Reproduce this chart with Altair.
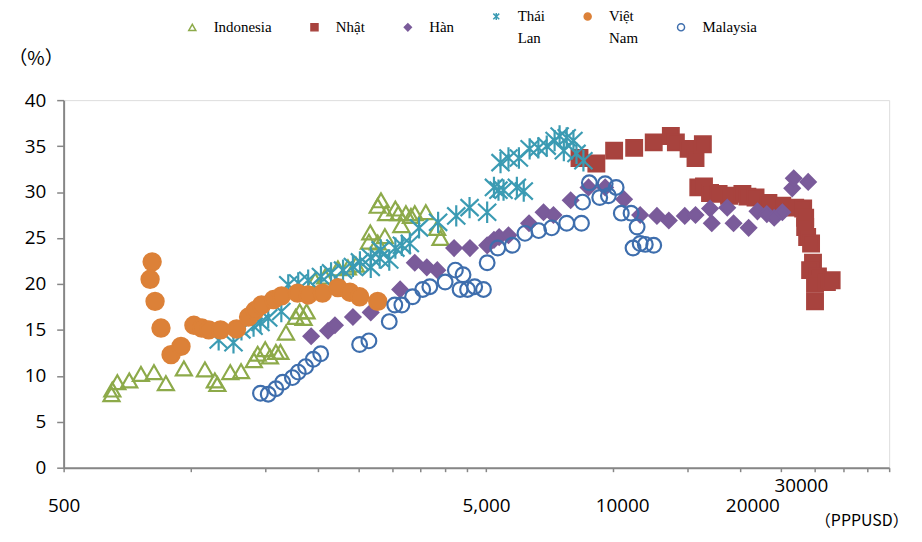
import altair as alt
import pandas as pd

# ---------------- data (GDP per capita, PPP USD ; share %) ----------------
series_names = ["Indonesia", "Nhật", "Hàn", "Thái Lan", "Việt Nam", "Malaysia"]
series_colors = ["#8DAA4A", "#A8433E", "#7A5B9A", "#3B9BB3", "#DC8138", "#3E6EAD"]

indonesia_gdp = [649, 652, 670, 715, 762, 818, 873, 963, 1080, 1140, 1156, 1240, 1315, 1410, 1440,
                 1500, 1540, 1590, 1630, 1680, 1770, 1810, 1850, 1880, 1970, 2080, 2230, 2355, 2460,
                 2660, 2640, 2770, 2880, 2770, 2820, 2900, 3050, 3100, 3150, 3230, 3320, 3390, 3600,
                 3830, 3900]
indonesia_share = [8.0, 8.5, 9.3, 9.5, 10.2, 10.4, 9.2, 10.8, 10.7, 9.5, 9.1, 10.4, 10.5, 11.7, 12.4,
                   12.9, 12.1, 12.6, 12.6, 14.7, 16.4, 17.0, 16.3, 17.0, 20.4, 20.8, 21.7, 21.8, 22.1,
                   25.6, 24.6, 24.5, 25.2, 28.5, 29.1, 27.7, 28.2, 27.7, 26.4, 27.7, 27.4, 27.7, 27.8,
                   26.1, 25.0]

japan_gdp = [8320, 9122, 10050, 11210, 12470, 13690, 14070, 15080, 15660, 16300, 15900, 16400,
             16950, 17760, 18800, 20220, 20780, 21720, 23300, 25140, 26960, 28160, 28470, 28470,
             28780, 29400, 29710, 29250, 30520, 30040, 32050, 32890, 30040]
japan_share = [33.7, 33.1, 34.5, 34.8, 35.4, 36.1, 35.4, 34.7, 33.7, 35.2, 30.5, 30.6,
               29.9, 29.8, 29.6, 29.8, 29.5, 29.4, 28.8, 28.5, 28.3, 28.2, 27.2, 26.2,
               25.1, 24.4, 22.3, 21.5, 20.8, 20.0, 20.2, 20.4, 18.1]

korea_gdp = [1927, 2113, 2194, 2420, 2667, 3130, 3390, 3620, 3833, 4200, 4580, 5030, 5220, 5370,
             5650, 6320, 6840, 7220, 7930, 8740, 9570, 10610, 11580, 12690, 13540, 14770, 15660,
             16950, 17110, 18620, 19270, 20920, 21950, 23100, 24050, 25140, 26530, 26750, 28940]
korea_share = [14.3, 14.9, 15.5, 16.4, 16.9, 19.4, 22.3, 21.8, 21.5, 23.9, 23.9, 24.2, 24.8, 25.1,
               25.3, 26.6, 27.8, 27.5, 29.1, 30.5, 30.5, 29.2, 27.5, 27.4, 26.9, 27.4, 27.5,
               28.2, 26.6, 28.3, 26.6, 26.1, 27.9, 27.6, 27.2, 27.8, 30.4, 31.5, 31.1]

thai_gdp = [1164, 1262, 1318, 1408, 1462, 1525, 1638, 1701, 1796, 1896, 2033, 2148, 2293, 2420,
            2514, 2667, 2667, 2800, 2815, 2950, 3050, 3160, 3300, 3470, 3850, 4250, 4570, 5030,
            5220, 5350, 5500, 5914, 6140, 5410, 5650, 5980, 6340, 6650, 6960, 7265, 7465, 7760,
            8050, 7640, 8186, 8500]
thai_share = [13.9, 13.6, 15.0, 15.4, 15.8, 16.3, 17.0, 19.9, 20.1, 20.4, 20.8, 21.2, 21.5, 21.9,
              22.4, 21.8, 22.9, 22.8, 23.7, 22.6, 23.9, 24.2, 24.4, 26.1, 26.7, 27.4, 28.3, 27.8,
              30.5, 30.2, 30.2, 30.5, 30.1, 33.2, 33.7, 33.7, 34.7, 34.8, 35.0, 35.6, 36.1, 35.9,
              35.6, 34.5, 34.2, 33.4]

vietnam_gdp = [810, 801, 823, 850, 898, 948, 1017, 1062, 1103, 1176, 1283, 1370, 1420, 1470, 1570,
               1640, 1790, 1896, 2050, 2230, 2380, 2510, 2770]
vietnam_share = [22.4, 20.5, 18.1, 15.2, 12.3, 13.2, 15.5, 15.2, 15.0, 15.0, 15.1, 16.4, 17.1, 17.7,
                 18.3, 18.7, 19.0, 18.8, 19.0, 19.6, 19.1, 18.6, 18.1]

malaysia_gdp = [1462, 1525, 1590, 1650, 1740, 1796, 1870, 1950, 2030, 2510, 2640, 2950, 3040, 3160,
                3350, 3540, 3680, 4000, 4230, 4410, 4340, 4520, 4700, 4930, 5030, 5330, 5770, 6180,
                6660, 7150, 7760, 8410, 8460, 8780, 9290, 9570, 9740, 10160, 10450, 11020, 11390,
                11140, 11580, 11910, 12470]
malaysia_share = [8.1, 8.0, 8.6, 9.3, 9.8, 10.4, 11.0, 11.8, 12.4, 13.4, 13.8, 15.9, 17.7, 17.7,
                  18.6, 19.4, 19.7, 20.2, 21.5, 21.0, 19.4, 19.4, 19.7, 19.4, 22.3, 23.9, 24.2, 25.5,
                  25.8, 26.1, 26.6, 26.6, 28.9, 31.0, 29.4, 30.9, 29.6, 30.5, 27.7, 27.7, 26.2,
                  23.9, 24.4, 24.3, 24.2]

x_tick_values = [500, 1000, 1500, 2000, 2500, 3000, 3500, 4000, 4500, 5000,
                 10000, 15000, 20000, 25000, 30000, 35000, 40000, 45000]
y_tick_values = [0, 5, 10, 15, 20, 25, 30, 35, 40]

# ---------------- table ----------------
asterisk = "M0,-1L0,1M-0.85,-0.8L0.85,0.8M-0.85,0.8L0.85,-0.8"
shape_range = ["triangle-up", "square", "diamond", asterisk, "circle", "circle"]
fill_range = ["transparent", series_colors[1], series_colors[2], "transparent",
              series_colors[4], "transparent"]
marker_sizes = [260, 250, 230, 460, 300, 220]

parts = [
    ("Indonesia", indonesia_gdp, indonesia_share),
    ("Nhật", japan_gdp, japan_share),
    ("Hàn", korea_gdp, korea_share),
    ("Thái Lan", thai_gdp, thai_share),
    ("Việt Nam", vietnam_gdp, vietnam_share),
    ("Malaysia", malaysia_gdp, malaysia_share),
]
frames = [pd.DataFrame({"series": n, "gdp": g, "share": s, "msize": marker_sizes[i]})
          for i, (n, g, s) in enumerate(parts)]
df = pd.concat(frames, ignore_index=True)

legend = alt.Legend(
    orient="none", direction="horizontal", columns=6, legendX=122, legendY=-92,
    title=None, labelFont="Liberation Serif", labelFontSize=15, labelColor="#000000",
    labelFontWeight="normal", symbolSize=50, symbolStrokeWidth=1.5,
    labelOffset=14, columnPadding=35, padding=0,
)

label_expr = ("datum.value == 500 ? '500' : datum.value == 5000 ? '5,000' : "
              "datum.value == 10000 ? '10000' : datum.value == 20000 ? '20000' : "
              "datum.value == 30000 ? '30000' : ''")

x_axis = alt.Axis(
    values=x_tick_values, labelExpr=label_expr, labelOverlap=False, labelFlush=False,
    labelFont="Open Sans", labelFontSize=19, labelColor="#000000",
    labelOffset={"condition": [{"test": "datum.value == 10000", "value": 9},
                               {"test": "datum.value == 20000", "value": 12},
                               {"test": "datum.value == 30000", "value": -14}],
                 "value": 0},
    labelPadding={"condition": {"test": "datum.value == 30000", "value": 5}, "value": 25},
    tickSize=4, tickColor="#868686", tickWidth=1.5,
    domainColor="#868686", domainWidth=2, grid=False,
    title="（PPPUSD）", titleFont="Noto Sans CJK JP", titleFontSize=16,
    titleFontWeight="normal", titleColor="#000000",
    titleX=850, titleY=53, titleAlign="right", titleBaseline="middle",
)

y_axis = alt.Axis(
    values=y_tick_values, labelFont="Open Sans", labelFontSize=19, labelColor="#000000",
    labelPadding=11, tickSize=7, tickColor="#868686", tickWidth=1.5,
    domainColor="#868686", domainWidth=2, grid=False,
    title="（%）", titleFont="Noto Sans CJK JP", titleFontSize=19, titleFontWeight="normal",
    titleColor="#000000", titleAngle=0, titleX=-56, titleY=-42,
    titleAlign="left", titleBaseline="middle",
)

chart = alt.Chart(df).mark_point(opacity=1, strokeWidth=2.2).encode(
    x=alt.X("gdp:Q", scale=alt.Scale(type="log", domain=[500, 45000], nice=False), axis=x_axis),
    y=alt.Y("share:Q", scale=alt.Scale(domain=[0, 40], nice=False), axis=y_axis),
    shape=alt.Shape("series:N", scale=alt.Scale(domain=series_names, range=shape_range), legend=legend),
    fill=alt.Fill("series:N", scale=alt.Scale(domain=series_names, range=fill_range), legend=legend),
    stroke=alt.Stroke("series:N", scale=alt.Scale(domain=series_names, range=series_colors), legend=legend),
    size=alt.Size("msize:Q", scale=None),
).properties(
    width=831, height=370,
    autosize=alt.AutoSizeParams(type="none"),
    padding={"left": 56, "top": 91, "right": 25, "bottom": 64},
).configure_view(stroke=None).configure(
    style={"guide-label": {"lineHeight": 22, "lineBreak": " "}}
)

chart.save("out.html", embed_options={"renderer": "svg", "actions": False})
